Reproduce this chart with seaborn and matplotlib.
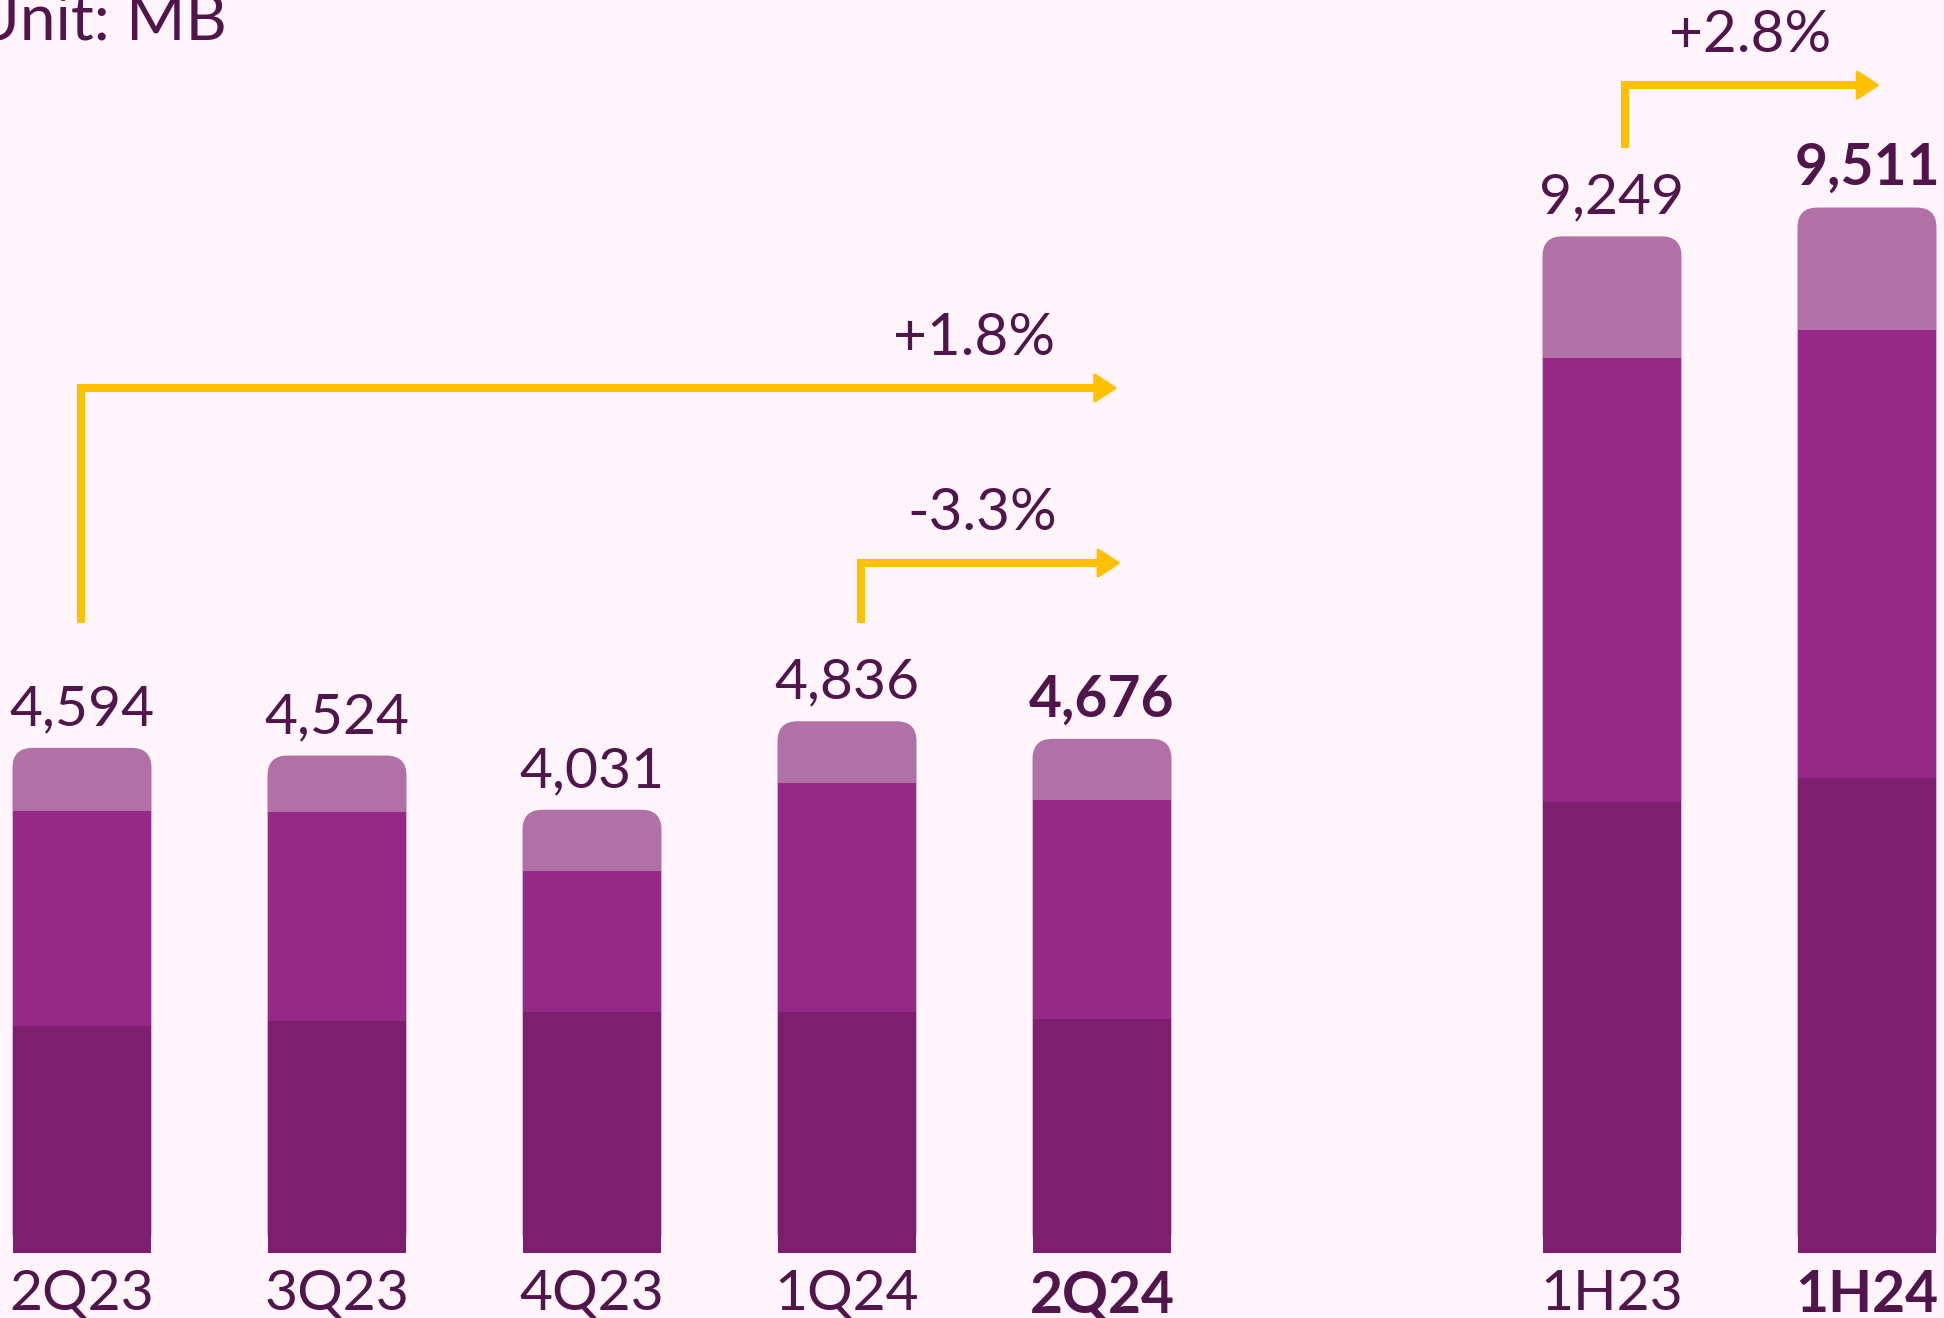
import numpy as np
import pandas as pd
import matplotlib
matplotlib.use("Agg")
import matplotlib.pyplot as plt
import seaborn as sns
from matplotlib.patches import FancyBboxPatch, Polygon

# ---------------- data ----------------
periods = ["2Q23", "3Q23", "4Q23", "1Q24", "2Q24", "1H23", "1H24"]
totals = [4594, 4524, 4031, 4836, 4676, 9249, 9511]
seg_bottom = [2063, 2111, 2188, 2188, 2129, 4099, 4317]
seg_mid = [1957, 1899, 1286, 2090, 1993, 4046, 4083]
highlight = [False, False, False, False, True, False, True]

growth_labels = ["+1.8%", "-3.3%", "+2.8%"]
arrow_x0 = [-0.005, 3.055, 6.05]
arrow_x1 = [4.05, 4.063, 7.04]
arrow_base = [5730, 5730, 10052]
arrow_level = [7869, 6276, 10625]
growth_label_x = [3.50, 3.53, 6.54]

unit_text = "Unit: MB"

# ---------------- style ----------------
BG = "#FFF4FA"
C_BOTTOM = "#7D1E6F"
C_MID = "#962888"
C_TOP = "#B170A6"
C_TEXT = "#50154A"
C_ARROW = "#FFC000"
FONT = ["Lato", "DejaVu Sans"]

sns.set_theme(style="white")
plt.rcParams["font.family"] = FONT

W, H, DPI = 1944, 1318, 100
fig = plt.figure(figsize=(W / DPI, H / DPI), dpi=DPI, facecolor=BG)

base_px = 1252.7          # bar base, px from top
px_per_slot = 255.0       # px per x unit
x0_px = 82.0              # px of first bar centre
mb_per_px = 9.1

ax = fig.add_axes([0, (H - base_px) / H, 1, base_px / H])
ax.set_facecolor(BG)

# positions: quarters, then a gap, then half-years
positions = list(range(5)) + [6, 7]
df = pd.DataFrame({
    "pos": positions,
    "total": totals,
    "lower2": np.array(seg_bottom) + np.array(seg_mid),
    "lower1": seg_bottom,
})

bw = 0.545
common = dict(x="pos", native_scale=True, orient="x", width=bw,
              saturation=1, errorbar=None, linewidth=0, ax=ax)

sns.barplot(data=df, y="total", color=C_TOP, **common)
n_top = len(ax.patches)

xlim = (-x0_px / px_per_slot, (W - x0_px) / px_per_slot)
ylim = (0, base_px * mb_per_px)
ax.set_xlim(*xlim)
ax.set_ylim(*ylim)

# convert the total bars to rounded-top boxes
aspect = mb_per_px * px_per_slot
r = 20 / px_per_slot
for p in list(ax.patches)[:n_top]:
    x, y = p.get_x(), p.get_y()
    w, h = p.get_width(), p.get_height()
    fb = FancyBboxPatch((x, y), w, h,
                        boxstyle=f"round,pad=0,rounding_size={r}",
                        mutation_aspect=aspect,
                        facecolor=C_TOP, edgecolor="none", linewidth=0, zorder=p.get_zorder())
    p.remove()
    ax.add_patch(fb)

sns.barplot(data=df, y="lower2", color=C_MID, **common)
sns.barplot(data=df, y="lower1", color=C_BOTTOM, **common)

ax.set_xlim(*xlim)
ax.set_ylim(*ylim)
ax.set_xlabel("")
ax.set_ylabel("")
ax.set_yticks([])
for s in ax.spines.values():
    s.set_visible(False)

FS = 41
# value labels
for xp, tot, hl in zip(positions, totals, highlight):
    ax.annotate(f"{tot:,}", (xp, tot), xytext=(0, 22.5 * 72 / DPI),
                textcoords="offset points", ha="center", va="baseline",
                fontsize=FS, color=C_TEXT, fontweight="bold" if hl else "normal")

# category labels
ax.set_xticks(positions)
ax.set_xticklabels(periods)
ax.tick_params(axis="x", length=0, pad=12, labelsize=FS, colors=C_TEXT)
for lab, hl in zip(ax.get_xticklabels(), highlight):
    lab.set_fontweight("bold" if hl else "normal")
    lab.set_color(C_TEXT)

# growth arrows
lw_px = 8
head_len = 20 / px_per_slot
head_hw = 13 * mb_per_px
for lbl, xa, xb, yb, yl, lx in zip(growth_labels, arrow_x0, arrow_x1,
                                    arrow_base, arrow_level, growth_label_x):
    ax.plot([xa, xa, xb - head_len], [yb, yl, yl], color=C_ARROW,
            lw=lw_px * 72 / DPI, solid_joinstyle="miter", solid_capstyle="butt",
            zorder=5)
    head = Polygon([(xb - head_len, yl - head_hw), (xb, yl), (xb - head_len, yl + head_hw)],
                   closed=True, facecolor=C_ARROW, edgecolor=C_ARROW,
                   linewidth=3 * 72 / DPI, joinstyle="round", zorder=5)
    ax.add_patch(head)
    ax.annotate(lbl, (lx, yl), xytext=(0, 33 * 72 / DPI), textcoords="offset points",
                ha="center", va="baseline", fontsize=FS + 1, color=C_TEXT)

fig.text(227 / W, 1 - 40 / H, unit_text, ha="right", va="baseline",
         fontsize=FS + 5, color=C_TEXT)

fig.savefig("out.png", dpi=DPI, facecolor=BG)
